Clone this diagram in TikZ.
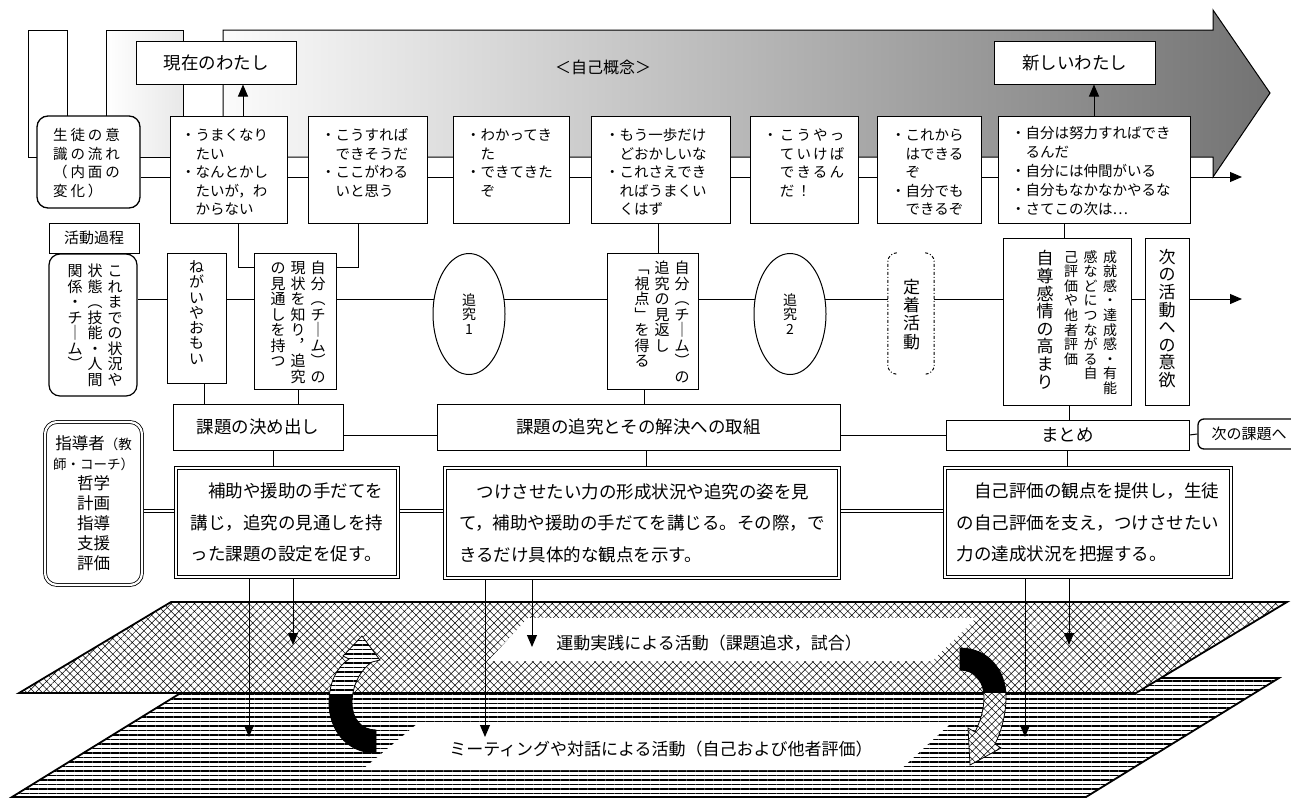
\documentclass[tikz,border=0pt]{standalone}
\usepackage{fontspec}
\setmainfont{Noto Sans CJK JP}
\newfontfamily\jpspA[LetterSpace=20]{Noto Sans CJK JP}
\newfontfamily\jpspB[LetterSpace=15]{Noto Sans CJK JP}
\usetikzlibrary{fit,arrows.meta,patterns.meta,shapes.geometric}
\pgfdeclarelayer{back}
\pgfdeclarelayer{lines}
\pgfsetlayers{back,lines,main}
\makeatletter
\newcommand\vcol[2]{\vtop{\baselineskip=#1\relax\lineskiplimit=-\maxdimen\lineskip=0pt\relax\@tfor\vc@t:=#2\do{\hbox to 1em{\hss\vc@t\hss}}}}
\makeatother
\tikzset{
 ln/.style={line width=1pt},
 box/.style={draw, line width=1pt, fill=white, inner sep=0pt},
 rbox/.style={box, rounded corners=11pt},
 dbox/.style={draw, line width=0.8pt, double, double distance=2.2pt, fill=white, inner sep=0pt},
 dln/.style={line width=0.8pt, double, double distance=2.2pt},
 tri/.style={line width=1pt, -{Triangle[length=12pt,width=10pt]}},
 btxt/.style={inner sep=0pt, anchor=base west, font=\fontsize{14.5}{18.5}\selectfont},
 vtxt/.style={inner sep=0pt, anchor=base},
 lbl/.style={inner sep=0pt, font=\fontsize{17.5}{20}\selectfont},
 dtxt/.style={inner sep=0pt, align=left, font=\fontsize{17.5}{31.5}\selectfont},
 plane/.style={line width=1.8pt},
 hlines/.style={pattern={Lines[angle=0,distance=4.5pt,line width=1.1pt]}},
 xhatch/.style={pattern={Hatch[angle=45,distance=5.5pt,line width=0.5pt]}},
 pL/.style={insert path={(376,730) -- (376,753) .. controls (345,753) and (329,728) .. (329,703) .. controls (329,682) and (337,667) .. (349,659) -- (343,656) -- (362,636) -- (380,660) -- (372,662) .. controls (360,670) and (352,686) .. (352,703) .. controls (352,718) and (361,730) .. (376,730) -- cycle}},
 pR/.style={insert path={(960,648) .. controls (988,648) and (1006,670) .. (1006,697) .. controls (1006,715) and (1001,732) .. (995,744) -- (1001,748) -- (970,765) -- (968,728) -- (975,732) .. controls (980,722) and (984,710) .. (984,697) .. controls (984,682) and (975,670) .. (960,670) -- cycle}},
}
\begin{document}
\begin{tikzpicture}[x=1pt,y=-1pt]
\useasboundingbox (0,0) rectangle (1291,798);
\begin{pgfonlayer}{back}
\fill[white] (0,0) rectangle (1291,798);
\draw[ln, fill=white] (28,30) rectangle (67,157);
\shadedraw[ln, left color=white, right color=gray!18] (106,30) rectangle (183,157);
\shadedraw[ln, left color=gray!3, right color=black!55] (223,30) -- (1213,30) -- (1213,10) -- (1270,93) -- (1213,177) -- (1213,157) -- (223,157) -- cycle;
% planes
\draw[plane, preaction={fill=white}, hlines] (12,797) -- (205,678) -- (1279,678) -- (1086,797) -- cycle;
\draw[plane, preaction={fill=white}, xhatch] (19,693) -- (171,602) -- (1287,602) -- (1136,693) -- cycle;
\fill[white] (528,618) -- (976,618) -- (932,661) -- (488,661) -- cycle;
\fill[white] (417,724) -- (950,724) -- (900,770) -- (362,770) -- cycle;
% curved arrows
\begin{scope}\clip (300,693) rectangle (400,760); \fill[black, pL]; \end{scope}
\begin{scope}\clip (300,630) rectangle (400,693); \fill[white, pL]; \fill[hlines, pL]; \end{scope}
\draw[line width=0.8pt, pL];
\begin{scope}\clip (940,640) rectangle (1020,693); \fill[black, pR]; \end{scope}
\begin{scope}\clip (940,693) rectangle (1020,775); \fill[white, pR]; \fill[xhatch, pR]; \end{scope}
\draw[line width=0.8pt, pR];
\end{pgfonlayer}

% top labels
\node[box, fit={(136,41)(296,84)}] (genzai) {};
\node[lbl] (genzaiT) at (genzai.center) {現在のわたし};
\node[box, fit={(994,41)(1155,84)}] (atarashi) {};
\node[lbl] (atarashiT) at (atarashi.center) {新しいわたし};
\node[font=\fontsize{16}{18}\selectfont, inner sep=0pt] (gainen) at (603,67) {＜自己概念＞};
\node[rbox, line width=1.3pt, fit={(37,116)(140,208)}] (seito) {};
\node[btxt, font=\jpspA\fontsize{14.5}{18.5}\selectfont] (seitoT) at (53,140.5) {\parbox[t]{90pt}{生徒の意\\識の流れ\\（内面の\\変化）}};

% top boxes
\node[box, fit={(170,116)(287,223)}] (b1) {};
\node[box, fit={(308,116)(427,223)}] (b2) {};
\node[box, fit={(453,116)(569,223)}] (b3) {};
\node[box, fit={(591,116)(730,223)}] (b4) {};
\node[box, fit={(750,116)(858,223)}] (b5) {};
\node[box, fit={(877,116)(981,223)}] (b6) {};
\node[box, fit={(998,116)(1190,223)}] (b7) {};
\node[btxt] (b1t) at (181,140.5) {\parbox[t]{120pt}{・うまくなり\\　たい\\・なんとかし\\　たいが，わ\\　からない}};
\node[btxt] (b2t) at (321,140.5) {\parbox[t]{120pt}{・こうすれば\\　できそうだ\\・ここがわる\\　いと思う}};
\node[btxt] (b3t) at (466,140.5) {\parbox[t]{120pt}{・わかってき\\　た\\・できてきた\\　ぞ}};
\node[btxt] (b4t) at (605,140.5) {\parbox[t]{140pt}{・もう一歩だけ\\　どおかしいな\\・これさえでき\\　ればうまくい\\　くはず}};
\node[btxt, font=\jpspB\fontsize{14.5}{18.5}\selectfont] (b5t) at (763,140.5) {\parbox[t]{120pt}{・こうやっ\\　ていけば\\　できるん\\　だ！}};
\node[btxt] (b6t) at (891,140.5) {\parbox[t]{120pt}{・これから\\　はできる\\　ぞ\\・自分でも\\　できるぞ}};
\node[btxt, font=\fontsize{14.5}{19}\selectfont] (b7t) at (1011,138.5) {\parbox[t]{200pt}{・自分は努力すればでき\\　るんだ\\・自分には仲間がいる\\・自分もなかなかやるな\\・さてこの次は…}};

% row 2
\node[box, fit={(49,223)(139,253)}] (katsudo) {};
\node[inner sep=0pt, font=\fontsize{15}{17}\selectfont] (katsudoT) at (katsudo.center) {活動過程};
\node[rbox, line width=1.2pt, fit={(49,254)(137,396)}] (kore) {};
\node[vtxt, font=\fontsize{15}{15}\selectfont] (koret) at (95,276.7) {\vcol{15.5pt}{関係・チ｜ム︶}\hskip5pt\vcol{15.5pt}{状態︵技能・人間}\hskip5pt\vcol{15.5pt}{これまでの状況や}};
\node[box, fit={(167,253)(226,383)}] (negai) {};
\node[vtxt, font=\fontsize{15}{15}\selectfont] (negait) at (196.5,272.4) {\vcol{15.3pt}{ねがいやおもい}};
\node[box, fit={(254,253)(336,389)}] (jibunA) {};
\node[vtxt, font=\fontsize{15}{15}\selectfont] (jibunAt) at (298,273.7) {\vcol{15.5pt}{の見通しを持つ}\hskip5pt\vcol{15.5pt}{現状を知り︐追究}\hskip5pt\vcol{15.5pt}{自分︵チ｜ム︶の}};
\node[box, ellipse, minimum width=72pt, minimum height=121pt] (t1) at (469,314) {};
\node[vtxt, font=\fontsize{14}{14}\selectfont] (t1t) at (469,305.3) {\vcol{14.5pt}{追究1}};
\node[box, fit={(607,253)(698,389)}] (jibunB) {};
\node[vtxt, font=\fontsize{15}{15}\selectfont] (jibunBt) at (662,273.7) {\vcol{15.5pt}{﹁視点﹂を得る}\hskip5pt\vcol{15.5pt}{追究の見返し}\hskip5pt\vcol{15.5pt}{自分︵チ｜ム︶の}};
\node[box, ellipse, minimum width=72pt, minimum height=121pt] (t2) at (790,314) {};
\node[vtxt, font=\fontsize{14}{14}\selectfont] (t2t) at (790,305.3) {\vcol{14.5pt}{追究2}};
\node[fill=white, inner sep=0pt, fit={(888,253)(934,374)}] (teichaku) {};
\draw[ln, dash dot, rounded corners=9pt] ([xshift=9pt]teichaku.north west) -- (teichaku.north west) -- (teichaku.south west) -- ([xshift=9pt]teichaku.south west);
\draw[ln, dash dot, rounded corners=9pt] ([xshift=-9pt]teichaku.north east) -- (teichaku.north east) -- (teichaku.south east) -- ([xshift=-9pt]teichaku.south east);
\node[vtxt, font=\fontsize{17}{17}\selectfont] (teichakut) at (911.5,293.2) {\vcol{18.3pt}{定着活動}};
\node[box, fit={(1003,238)(1131,405)}] (jouju) {};
\node[vtxt, font=\fontsize{14}{14}\selectfont] (joujut) at (1090.5,262) {\vcol{14.6pt}{己評価や他者評価}\hskip5.5pt\vcol{14.6pt}{感などにつながる自}\hskip5.5pt\vcol{14.6pt}{成就感・達成感・有能}};
\node[vtxt, font=\fontsize{17}{17}\selectfont] (jisont) at (1045,264.8) {\vcol{17.6pt}{自尊感情の高まり}};
\node[box, fit={(1145,238)(1189,405)}] (jiyoku) {};
\node[vtxt, font=\fontsize{17}{17}\selectfont] (jiyokut) at (1167,263.2) {\vcol{17.6pt}{次の活動への意欲}};

% row 3
\node[box, fit={(173,404)(343,450)}] (kime) {};
\node[lbl] (kimeT) at (kime.center) {課題の決め出し};
\node[box, fit={(437,404)(840,450)}] (tsuikyu) {};
\node[lbl] (tsuikyuT) at (tsuikyu.center) {課題の追究とその解決への取組};
\node[box, fit={(946,420)(1189,450)}] (matome) {};
\node[lbl] (matomeT) at (matome.center) {まとめ};
\node[box, line width=1.3pt, rounded corners=6pt, fit={(1198,419)(1298,449)}] (tsugi) {};
\node[inner sep=0pt, font=\fontsize{15}{17}\selectfont] (tsugiT) at (1249,434) {次の課題へ};

% row 4
\node[dbox, rounded corners=12pt, fit={(45,422)(142,585)}] (shidou) {};
\node[inner sep=0pt, align=center, font=\fontsize{16.5}{20}\selectfont] (shidouT) at (shidou.center) {指導者{\fontsize{13.5}{20}\selectfont（教}\\{\fontsize{13.5}{20}\selectfont 師・コーチ）}\\哲学\\計画\\指導\\支援\\評価};
\node[dbox, fit={(176,468)(398,577)}] (hojo) {};
\node[dtxt] (hojoT) at (hojo.center) {　補助や援助の手だてを\\講じ，追究の見通しを持\\った課題の設定を促す。};
\node[dbox, fit={(445,468)(839,578)}] (tsuke) {};
\node[dtxt] (tsukeT) at (tsuke.center) {　つけさせたい力の形成状況や追究の姿を見\\て，補助や援助の手だてを講じる。その際，で\\きるだけ具体的な観点を示す。};
\node[dbox, fit={(945,468)(1231,577)}] (jikohyoka) {};
\node[dtxt] (jikohyokaT) at (jikohyoka.center) {　自己評価の観点を提供し，生徒\\の自己評価を支え，つけさせたい\\力の達成状況を把握する。};

% plane texts
\node[font=\fontsize{17}{19}\selectfont, inner sep=0pt] (undou) at (709,643) {運動実践による活動（課題追求，試合）};
\node[font=\fontsize{17}{19}\selectfont, inner sep=0pt] (meeting) at (661,749) {ミーティングや対話による活動（自己および他者評価）};

\begin{pgfonlayer}{lines}
\coordinate (e1) at (1242,177);
\coordinate (e2) at (1242,299);
\draw[tri] (seito.east |- e1) -- (e1);
\draw[tri] (kore.east |- e2) -- (e2);
\coordinate (c1) at ([xshift=14.5pt]b1.north);
\draw[tri] (c1) -- (c1 |- genzai.south);
\draw[tri] (b7.north) -- (b7.north |- atarashi.south);
\draw[ln] ([xshift=9.5pt]b1.south) |- ([yshift=-15pt]jibunA.north west);
\draw[ln] ([xshift=-9.5pt]b2.south) |- ([yshift=-15pt]jibunA.north east);
\coordinate (c2) at ([xshift=-2.5pt]b4.south);
\draw[ln] (c2) -- (c2 |- jibunB.north);
\coordinate (c3) at ([xshift=-3pt]jouju.north);
\draw[ln] (c3 |- b7.south) -- (c3);
\coordinate (c4) at ([xshift=7.5pt]negai.south);
\draw[ln] (c4) -- (c4 |- kime.north);
\coordinate (c5) at ([xshift=3pt]jibunA.south);
\draw[ln] (c5) -- (c5 |- kime.north);
\coordinate (c6) at ([xshift=-8.5pt]jibunB.south);
\draw[ln] (c6) -- (c6 |- tsuikyu.north);
\coordinate (c7) at ([xshift=2pt]jouju.south);
\draw[ln] (c7) -- (c7 |- matome.north);
\draw[ln] (kime.east |- matome.west) -- (tsuikyu.west |- matome.west);
\draw[ln] (tsuikyu.east |- matome.west) -- (matome.west);
\draw[ln] (matome.east) -- (tsugi.west);
\coordinate (c8) at ([xshift=15pt]kime.south);
\draw[ln] (c8) -- (c8 |- hojo.north);
\coordinate (c9) at ([xshift=7.5pt]tsuikyu.south);
\draw[ln] (c9) -- (c9 |- tsuke.north);
\draw[ln] (matome.south) -- (matome.south |- jikohyoka.north);
\coordinate (dl) at ([yshift=11.5pt]hojo.west);
\draw[dln] (shidou.east |- dl) -- (dl);
\draw[dln] (hojo.east |- dl) -- (tsuke.west |- dl);
\draw[dln] (tsuke.east |- dl) -- (jikohyoka.west |- dl);
\coordinate (d1) at (249,737);
\coordinate (d2) at (293,645);
\coordinate (d3) at (485,737);
\coordinate (d4) at (532,647);
\coordinate (d5) at (1025,737);
\coordinate (d6) at (1069,645);
\draw[tri] (hojo.south -| d1) -- (d1);
\draw[tri] (hojo.south -| d2) -- (d2);
\draw[tri] (tsuke.south -| d3) -- (d3);
\draw[tri] (tsuke.south -| d4) -- (d4);
\draw[tri] (jikohyoka.south -| d5) -- (d5);
\draw[tri] (jikohyoka.south -| d6) -- (d6);
\end{pgfonlayer}
\end{tikzpicture}
\end{document}
